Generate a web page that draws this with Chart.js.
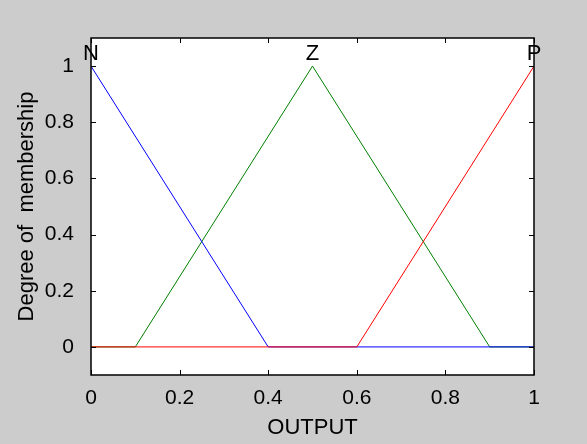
<!DOCTYPE html>
<html>
<head>
<meta charset="utf-8">
<script src="https://cdn.jsdelivr.net/npm/chart.js@4"></script>
<style>
  html, body { margin: 0; padding: 0; background: #cccccc; }
  #wrap { width: 587px; height: 444px; position: relative; }
</style>
</head>
<body>
<div id="wrap"><canvas id="myChart" width="587" height="444"></canvas></div>
<script>
// membership functions, x positions and degree values
const nX = [0, 0.4, 1];
const nY = [1, 0, 0];
const zX = [0, 0.1, 0.5, 0.9, 1];
const zY = [0, 0, 1, 0, 0];
const pX = [0, 0.6, 1];
const pY = [0, 0, 1];
const mfNames = ['N', 'Z', 'P'];
const mfPeaks = [0, 0.5, 1];
const xTicks = [0, 0.2, 0.4, 0.6, 0.8, 1];
const yTicks = [0, 0.2, 0.4, 0.6, 0.8, 1];

const pts = (xs, ys) => xs.map((x, i) => ({x: x, y: ys[i]}));
const font = "'Liberation Sans', Arial, sans-serif";
const fsize = 21;
const tsize = 22;

const boxPlugin = {
  id: 'box',
  afterDatasetsDraw(chart) {
    const c = chart.ctx, a = chart.chartArea;
    const xs = chart.scales.x, ys = chart.scales.y;
    c.save();
    c.strokeStyle = '#000';
    c.lineWidth = 1;
    c.beginPath();
    xTicks.forEach(v => {
      const px = Math.round(xs.getPixelForValue(v)) + 0.5;
      c.moveTo(px, a.bottom); c.lineTo(px, a.bottom - 5);
      c.moveTo(px, a.top); c.lineTo(px, a.top + 5);
    });
    yTicks.forEach(v => {
      const py = Math.round(ys.getPixelForValue(v)) + 0.5;
      c.moveTo(a.left, py); c.lineTo(a.left + 5, py);
      c.moveTo(a.right, py); c.lineTo(a.right - 5, py);
    });
    c.stroke();
    c.lineWidth = 1.5;
    c.strokeRect(a.left, a.top, a.right - a.left, a.bottom - a.top);
    // mf names above peaks
    c.fillStyle = '#000';
    c.font = tsize + 'px ' + font;
    c.textAlign = 'center';
    c.textBaseline = 'alphabetic';
    mfNames.forEach((n, i) => {
      c.fillText(n, xs.getPixelForValue(mfPeaks[i]), ys.getPixelForValue(1) - 6);
    });
    c.restore();
  },
  beforeDraw(chart) {
    const c = chart.ctx, a = chart.chartArea;
    c.save();
    c.fillStyle = '#fff';
    c.fillRect(a.left, a.top, a.right - a.left, a.bottom - a.top);
    c.restore();
  }
};

const ctx = document.getElementById('myChart').getContext('2d');
const myChart = new Chart(ctx, {
  type: 'line',
  data: {
    datasets: [
      { label: 'N', data: pts(nX, nY), borderColor: '#0000ff', order: 2 },
      { label: 'Z', data: pts(zX, zY), borderColor: '#008000', order: 3 },
      { label: 'P', data: pts(pX, pY), borderColor: '#ff0000', order: 1 }
    ]
  },
  options: {
    responsive: false,
    animation: false,
    elements: {
      line: { borderWidth: 1, tension: 0 },
      point: { radius: 0 }
    },
    layout: { padding: { left: 0, right: 53, top: 38, bottom: 0 } },
    plugins: { legend: { display: false }, tooltip: { enabled: false } },
    scales: {
      x: {
        type: 'linear', min: 0, max: 1,
        afterBuildTicks: s => { s.ticks = xTicks.map(v => ({value: v})); },
        afterFit: s => { s.height = 69; },
        grid: { display: false },
        border: { display: false },
        ticks: { color: '#000', font: { family: font, size: fsize }, padding: 3, maxRotation: 0,
                 callback: v => v.toString() },
        title: { display: true, text: 'OUTPUT', color: '#000', font: { family: font, size: tsize }, padding: { top: 0, bottom: 3 } }
      },
      y: {
        min: -0.1, max: 1.1,
        afterBuildTicks: s => { s.ticks = yTicks.map(v => ({value: v})); },
        afterFit: s => { s.width = 91; },
        grid: { display: false },
        border: { display: false },
        ticks: { color: '#000', font: { family: font, size: fsize }, padding: 9,
                 callback: v => v.toString() },
        title: { display: true, text: 'Degree of  membership', color: '#000', font: { family: font, size: tsize }, padding: { top: 14, bottom: 0 } }
      }
    }
  },
  plugins: [boxPlugin]
});
</script>
</body>
</html>
